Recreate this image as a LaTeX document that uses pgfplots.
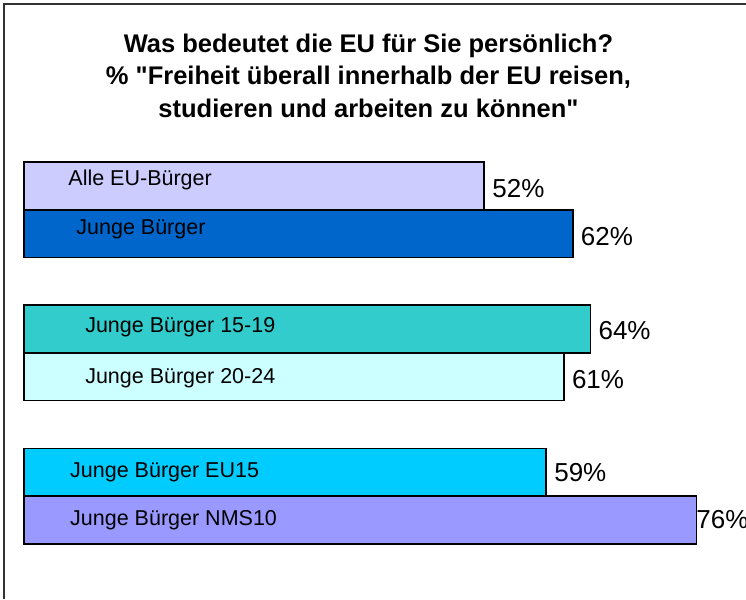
\documentclass[border=0pt]{standalone}
\usepackage{pgfplots}
\pgfplotsset{compat=1.18}
\usepackage{fontspec}
\setmainfont{Liberation Sans}[Ligatures=TeXOff]
\definecolor{cA}{HTML}{CCCCFF}
\definecolor{cB}{HTML}{0066CC}
\definecolor{cC}{HTML}{33CCCC}
\definecolor{cD}{HTML}{CCFFFF}
\definecolor{cE}{HTML}{00CCFF}
\definecolor{cF}{HTML}{9999FF}
\definecolor{frame}{HTML}{333333}
\begin{document}
\begin{tikzpicture}[x=1pt,y=1pt]
\useasboundingbox (0,0) rectangle (746,-599);
\fill[white] (0,0) rectangle (746,-599);
\draw[frame, line width=2pt] (4,-599) -- (4,-4) -- (746,-4);
\node[align=center, font=\fontsize{25.5}{32.5}\selectfont\bfseries] at (368.5,-75.5)
  {Was bedeutet die EU für Sie persönlich?\\
   \% "Freiheit überall innerhalb der EU reisen,\\
   studieren und arbeiten zu können"};
\begin{axis}[
  at={(24pt,-162.2pt)}, anchor=north west,
  scale only axis, width=708pt, height=381.6pt,
  xmin=0, xmax=80, ymin=-7.5, ymax=0.5,
  axis lines=none, clip=false,
  xbar, bar width=1, bar shift=0pt,
  every axis plot/.append style={draw=black, line width=1.6pt},
]
\addplot[fill=cA] coordinates {(52,0)};
\addplot[fill=cB] coordinates {(62,-1)};
\addplot[fill=cC] coordinates {(64,-3)};
\addplot[fill=cD] coordinates {(61,-4)};
\addplot[fill=cE] coordinates {(59,-6)};
\addplot[fill=cF] coordinates {(76,-7)};
\begin{scope}[every node/.style={anchor=west, font=\fontsize{21.5}{24}\selectfont, inner sep=0pt}]
\node at (axis cs:5.0,0.13) {Alle EU-Bürger};
\node at (axis cs:5.9,-0.9) {Junge Bürger};
\node at (axis cs:6.9,-2.97) {Junge Bürger 15-19};
\node at (axis cs:6.9,-4.02) {Junge Bürger 20-24};
\node at (axis cs:5.2,-6.0) {Junge Bürger EU15};
\node at (axis cs:5.2,-7.0) {Junge Bürger NMS10};
\end{scope}
\begin{scope}[every node/.style={anchor=west, font=\fontsize{26}{28}\selectfont, inner sep=0pt}]
\node at (axis cs:52.9,-0.05) {52\%};
\node at (axis cs:62.9,-1.06) {62\%};
\node at (axis cs:64.9,-3.02) {64\%};
\node at (axis cs:61.9,-4.06) {61\%};
\node at (axis cs:59.9,-6.0) {59\%};
\node at (axis cs:75.95,-7.0) {76\%};
\end{scope}
\end{axis}
\end{tikzpicture}
\end{document}
